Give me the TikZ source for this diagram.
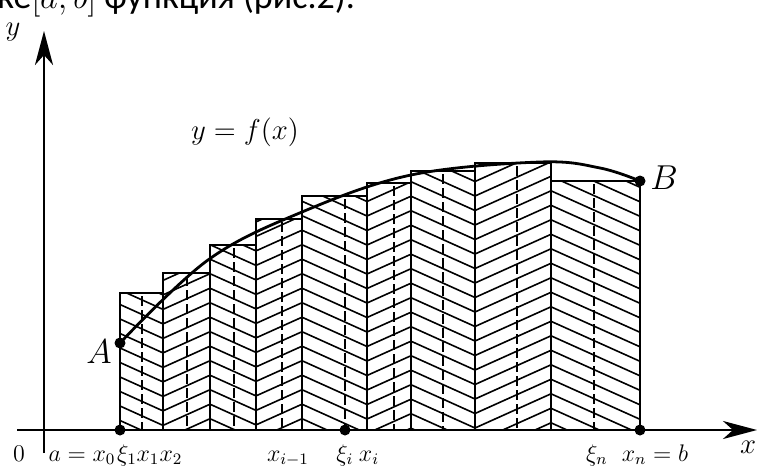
\documentclass[tikz,border=0pt]{standalone}
\usepackage{fontspec}
\newfontfamily\headfont{Carlito}
\usetikzlibrary{arrows.meta}

\begin{document}
\begin{tikzpicture}[x=0.5pt, y=-0.5pt,
  axis/.style={line width=1.4pt, -{Stealth[length=17pt,width=9pt,inset=5pt]}},
  bar/.style={line width=0.8pt},
  hatch/.style={line width=0.8pt},
  mid/.style={line width=0.75pt, dash pattern=on 5pt off 2pt},
  curve/.style={line width=1.4pt},
  dot/.style={circle, fill, inner sep=0pt, minimum size=5.5pt},
  lbl/.style={font=\large, anchor=base, inner sep=0pt},
  big/.style={font=\LARGE, inner sep=0pt},
]
  \useasboundingbox (0,0) rectangle (759,466);
  \clip (0,0) rectangle (759,466);

  % cut-off line of the text above
  \node[anchor=base west, inner sep=0pt, font=\headfont\fontsize{18}{20}\selectfont] (head) at (-3,9) {ке$[a,b]$ функция (рис.2).};

  % hatched columns: left/right/top/phase at left/phase at right
  \foreach \l/\r/\t/\pl/\pr in {120/163/293/0/19.4, 163/210/273/19.4/-1.8,
      210/256/245/-1.8/18.9, 256/302/219/18.9/-1.8, 302/367/196/-1.8/27.5,
      367/411/183/27.5/7.7, 411/475/171/7.7/36.5, 475/551/163/36.5/2.3,
      551/640/181/2.3/42.3} {
    \begin{scope}
      \clip (\l,\t) rectangle (\r,430);
      \foreach \k in {7,...,32}
        \draw[hatch] (\l,\pl+\k*14.5) -- (\r,\pr+\k*14.5);
    \end{scope}
    \draw[bar] (\l,430) |- (\r,\t) -- (\r,430);
  }

  % sample points xi
  \foreach \s/\t in {142/293, 187/273, 234/245, 282/219, 345/196,
      394/183, 443/171, 517/163, 594/181}
    \draw[mid] (\s,\t+3) -- (\s,430);

  % axes
  \coordinate (xs) at (17,430);
  \coordinate (xe) at (757,430);
  \coordinate (ys) at (44,453);
  \coordinate (ye) at (44,31);
  \draw[axis] (xs) -- (xe);
  \draw[axis] (ys) -- (ye);

  % graph of f
  \node[dot] (A) at (120,343) {};
  \node[dot] (B) at (640,181) {};
  \draw[curve] plot[smooth, tension=0.6] coordinates {(A.center) (208,260)
      (302,212) (411,175) (540,162) (600,168) (B.center)};

  \node[dot] (a) at (120,430) {};
  \node[dot] (xi) at (345,430) {};
  \node[dot] (b) at (640,430) {};

  % labels
  \node[big] (lA) at (99,352) {$A$};
  \node[big] (lB) at (664,178) {$B$};
  \node[font=\Large] (lf) at (245,132) {$y=f(x)$};
  \node[font=\Large] (lx) at (748,447) {$x$};
  \node[font=\Large, inner sep=1pt] (ly) at (13,32) {$y$};
  \node[lbl] (l0) at (19,461) {$0$};
  \node[lbl] (la) at (82,461) {$a=x_0$};
  \node[lbl] (lxi1) at (127,461) {$\xi_1$};
  \node[lbl] (lx1) at (148,461) {$x_1$};
  \node[lbl] (lx2) at (171,461) {$x_2$};
  \node[lbl] (lxim) at (288,461) {$x_{i-1}$};
  \node[lbl] (lxii) at (345,461) {$\xi_i$};
  \node[lbl] (lxi) at (369,461) {$x_i$};
  \node[lbl] (lxin) at (597,461) {$\xi_n$};
  \node[lbl] (lxn) at (655,461) {$x_n=b$};
\end{tikzpicture}
\end{document}
